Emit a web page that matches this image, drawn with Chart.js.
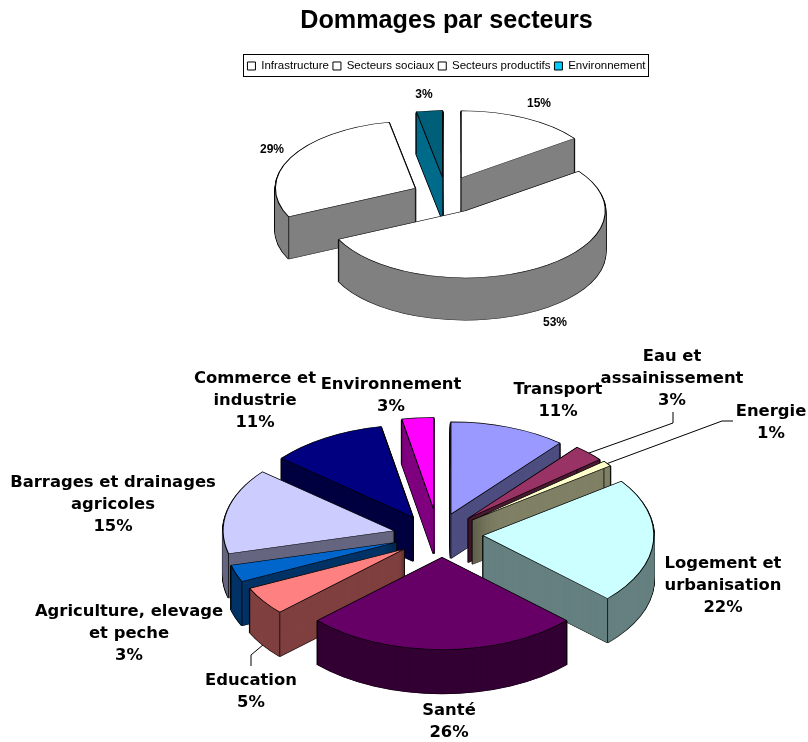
<!DOCTYPE html>
<html><head><meta charset="utf-8">
<script src="https://cdn.jsdelivr.net/npm/chart.js@4/dist/chart.umd.min.js"></script>
<style>
html,body{margin:0;padding:0;background:#fff;width:808px;height:742px;overflow:hidden}
canvas{position:absolute;left:0}
#c1{top:0}#c2{top:340px}
</style></head><body>
<canvas id="c1" width="808" height="340"></canvas>
<canvas id="c2" width="808" height="402"></canvas>
<script>
const titleText = "Dommages par secteurs";
const sectorNames = ["Infrastructure","Secteurs sociaux","Secteurs productifs","Environnement"];
const sectorValues = [15,53,29,3];
const sectorTop = ["#FFFFFF","#FFFFFF","#FFFFFF","#005F78"];
const sectorSide = ["#808080","#808080","#808080","#006B8A"];
const sectorLegend = ["#FFFFFF","#FFFFFF","#FFFFFF","#00CCFF"];
const sectorExplode = [40,38,31,36];
const sectorNudge = [[0,0],[3,0],[0,0],[3,0]];
const sectorLabelPos = [[539,104],[555,323],[272,150],[424,95]];

const branchNames = ["Transport","Eau et assainissement","Energie","Logement et urbanisation","Santé","Education","Agriculture, elevage et peche","Barrages et drainages agricoles","Commerce et industrie","Environnement"];
const branchLines = [["Transport"],["Eau et","assainissement"],["Energie"],["Logement et","urbanisation"],["Santé"],["Education"],["Agriculture, elevage","et peche"],["Barrages et drainages","agricoles"],["Commerce et","industrie"],["Environnement"]];
const branchValues = [11,3,1,22,26,5,3,15,11,3];
const branchTop = ["#9999FF","#993366","#FFFFCC","#CCFFFF","#660066","#FF8080","#0066CC","#CCCCFF","#000080","#FF00FF"];
const branchSide = ["#4D4D80","#4D1A33","#808066","#668080","#330033","#804040","#003366","#666680","#000040","#800080"];
const branchExplode = [35,41,42,42,43,43,45,45,47,45];
const branchNudge = [[0,-2],[0,0],[0,0],[2,0],[3,0],[1,2],[0,0],[-1,2],[-2,5],[-1,0]];
const branchLabelPos = [[558,390],[672,357],[771,412],[723,564],[449,711],[251,681],[129,612],[113,483],[255,379],[391,385]];
const branchLeaders = {1:[[673,412],[673,423]],2:[[733,421],[722,421]],5:[[251,666],[251,655]]};

function pie3d(cfg){
  return {
    id:'pie3d',
    beforeDatasetsDraw(chart){
      const ctx=chart.ctx, arcs=chart.getDatasetMeta(0).data, k=cfg.squash;
      const order=arcs.map((a,i)=>i).sort((p,q)=>{
        const m=a=>Math.sin((a.startAngle+a.endAngle)/2);
        return m(arcs[p])-m(arcs[q]);
      });
      const variant=(a,o)=>{const c=Object.create(a);c.options=Object.assign({},a.options,o);return c;};
      order.forEach(i=>{
        const a=arcs[i], mid=(a.startAngle+a.endAngle)/2, e=cfg.explode[i], n=cfg.nudge[i];
        ctx.save();
        ctx.translate(cfg.center[0]+n[0],cfg.center[1]+n[1]);
        ctx.scale(1,k);
        ctx.translate(-a.x+e*Math.cos(mid),-a.y+e*Math.sin(mid));
        const edge=variant(a,{backgroundColor:'#000',borderColor:'#000',borderWidth:2.2});
        const side=variant(a,{backgroundColor:cfg.side[i],borderColor:cfg.side[i],borderWidth:0.7});
        const lift=[];for(let d=cfg.depth;d>0;d--)lift.push(d/k);
        lift.forEach(d=>{ctx.save();ctx.translate(0,d);edge.draw(ctx);ctx.restore();});
        lift.forEach(d=>{ctx.save();ctx.translate(0,d);side.draw(ctx);ctx.restore();});
        ctx.strokeStyle='#000';ctx.lineWidth=1;
        const pts=[[a.x,a.y],
          [a.x+a.outerRadius*Math.cos(a.startAngle),a.y+a.outerRadius*Math.sin(a.startAngle)],
          [a.x+a.outerRadius*Math.cos(a.endAngle),a.y+a.outerRadius*Math.sin(a.endAngle)]];
        pts.forEach(p=>{ctx.beginPath();ctx.moveTo(p[0],p[1]);ctx.lineTo(p[0],p[1]+cfg.depth/k);ctx.stroke();});
        variant(a,{backgroundColor:cfg.top[i],borderColor:'#000',borderWidth:1.1}).draw(ctx);
        ctx.restore();
      });
      return false;
    },
    afterDraw(chart){
      const ctx=chart.ctx, arcs=chart.getDatasetMeta(0).data, k=cfg.squash;
      ctx.save();
      ctx.fillStyle='#000';ctx.textAlign='center';ctx.textBaseline='middle';
      ctx.font=cfg.font;
      cfg.labels.forEach((lines,i)=>{
        lines.forEach((t,n)=>ctx.fillText(t,cfg.labelPos[i][0],cfg.labelPos[i][1]-cfg.yShift+n*cfg.lineHeight));
      });
      Object.keys(cfg.leaders||{}).forEach(key=>{
        const i=+key,a=arcs[i],mid=(a.startAngle+a.endAngle)/2,e=cfg.explode[i]+a.outerRadius,n=cfg.nudge[i];
        const yEnd=cfg.center[1]+n[1]+e*Math.sin(mid)*k+(Math.sin(mid)>0?cfg.depth:0);
        ctx.strokeStyle='#000';ctx.lineWidth=1;ctx.beginPath();
        cfg.leaders[key].forEach((p,m)=>m?ctx.lineTo(p[0],p[1]-cfg.yShift):ctx.moveTo(p[0],p[1]-cfg.yShift));
        ctx.lineTo(cfg.center[0]+n[0]+e*Math.cos(mid),yEnd);ctx.stroke();
      });
      if(chart.legend&&chart.legend.legendHitBoxes&&chart.options.plugins.legend.display){
        const h=chart.legend.legendHitBoxes,l=h[0],r=h[h.length-1];
        ctx.strokeStyle='#000';ctx.lineWidth=1;
        ctx.strokeRect(Math.round(l.left)-3.5,Math.round(l.top)-5.5,Math.round(r.left+r.width-l.left)+7,Math.round(l.height)+10);
      }
      ctx.restore();
    }
  };
}

new Chart(document.getElementById('c1'),{
  type:'pie',
  data:{labels:sectorNames,datasets:[{data:sectorValues,backgroundColor:sectorTop,borderColor:'#000'}]},
  options:{responsive:false,animation:false,radius:140,
    layout:{padding:{left:85}},
    plugins:{tooltip:{enabled:false},
      title:{display:true,text:titleText,color:'#000',font:{family:'Liberation Sans',size:25.2,weight:'bold'},padding:{top:6,bottom:20}},
      legend:{display:true,position:'top',labels:{color:'#000',boxWidth:8,boxHeight:8,padding:4,font:{family:'Liberation Sans',size:11.5},
        generateLabels:()=>sectorNames.map((n,i)=>({text:n,fillStyle:sectorLegend[i],strokeStyle:'#000',lineWidth:1,hidden:false,index:i,fontColor:'#000'}))}}
    }},
  plugins:[pie3d({center:[443,195],squash:0.48,depth:42,explode:sectorExplode,nudge:sectorNudge,top:sectorTop,side:sectorSide,
    labels:sectorValues.map(v=>[v+'%']),labelPos:sectorLabelPos,lineHeight:12,yShift:0,font:"bold 12px 'Liberation Sans'"})]
});

new Chart(document.getElementById('c2'),{
  type:'pie',
  data:{labels:branchNames,datasets:[{data:branchValues,backgroundColor:branchTop,borderColor:'#000'}]},
  options:{responsive:false,animation:false,radius:171,
    plugins:{tooltip:{enabled:false},legend:{display:false},title:{display:false}}},
  plugins:[pie3d({center:[439,194],squash:0.54,depth:44,explode:branchExplode,nudge:branchNudge,top:branchTop,side:branchSide,
    labels:branchLines.map((l,i)=>l.concat(branchValues[i]+'%')),labelPos:branchLabelPos,lineHeight:21.7,yShift:340,
    leaders:branchLeaders,font:"bold 16.4px 'DejaVu Sans'"})]
});
</script>
</body></html>
